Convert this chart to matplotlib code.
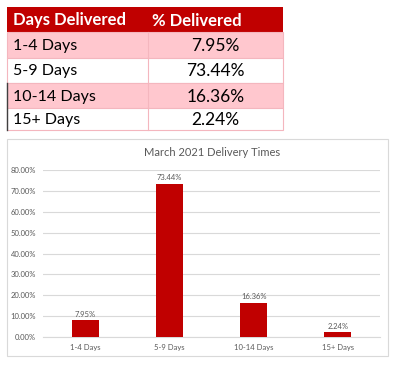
import numpy as np
import matplotlib
matplotlib.use("Agg")
import matplotlib.pyplot as plt
from matplotlib.patches import Rectangle

categories = ["1-4 Days", "5-9 Days", "10-14 Days", "15+ Days"]
delivered = [7.95, 73.44, 16.36, 2.24]
header = ["Days Delivered", "% Delivered"]
yticks = [0, 10, 20, 30, 40, 50, 60, 70, 80]
title = "March 2021 Delivery Times"

RED = "#C00000"
PINK = "#FFC7CE"
GRAY = "#595959"

plt.rcParams["font.family"] = ["Lato", "DejaVu Sans"]

fig = plt.figure(figsize=(4.0, 3.67), dpi=100)

# overlay in pixel coords for table and chart frame
ov = fig.add_axes([0, 0, 1, 1])
ov.set_xlim(0, 400)
ov.set_ylim(367, 0)
ov.axis("off")

# ---- table ----
x0, xs, x1 = 7, 148, 283
row_y = [7, 32, 58, 83, 108, 130]
ov.add_patch(Rectangle((x0, row_y[0]), x1 - x0, row_y[1] - row_y[0],
                       facecolor=RED, edgecolor="none"))
ov.text(13, (row_y[0] + row_y[1]) / 2 + 1, header[0], color="white",
        fontsize=12, fontweight="bold", va="center", ha="left")
ov.text(152, (row_y[0] + row_y[1]) / 2 + 1, header[1], color="white",
        fontsize=12, fontweight="bold", va="center", ha="left")
for i, (cat, val) in enumerate(zip(categories, delivered)):
    ya, yb = row_y[i + 1], row_y[i + 2]
    fc = PINK if i % 2 == 0 else "white"
    ov.add_patch(Rectangle((x0, ya), x1 - x0, yb - ya, facecolor=fc,
                           edgecolor="#F4B6BE", linewidth=0.8))
    ov.plot([xs, xs], [ya, yb], color="#F4B6BE", lw=0.8)
    ov.text(13, (ya + yb) / 2 + 1, cat, color="black", fontsize=11.5,
            va="center", ha="left")
    ov.text((xs + x1) / 2, (ya + yb) / 2 + 1, f"{val:.2f}%", color="black",
            fontsize=12.5, va="center", ha="center")
ov.plot([x0, x0], [row_y[3], row_y[5]], color="#404040", lw=1.0)

# chart frame
ov.add_patch(Rectangle((7, 139), 381, 217, facecolor="none",
                       edgecolor="#D9D9D9", linewidth=0.8))
ov.text(212, 153, title, color=GRAY, fontsize=8, ha="center", va="center")

# ---- bar chart ----
ax = fig.add_axes([0.1075, 0.0817, 0.8425, 0.4551])
ax.set_zorder(2)
ax.patch.set_alpha(0)
x = np.arange(len(categories))
ax.bar(x, delivered, width=0.32, color=RED, zorder=3)
for xi, v in zip(x, delivered):
    ax.text(xi, v + 1.2, f"{v:.2f}%", ha="center", va="bottom",
            fontsize=5.5, color=GRAY)
ax.set_xlim(-0.5, len(categories) - 0.5)
ax.set_ylim(0, 80)
ax.set_yticks(yticks)
ax.set_yticklabels([f"{t:.2f}%" for t in yticks])
ax.set_xticks(x)
ax.set_xticklabels(categories)
ax.grid(axis="y", color="#D9D9D9", linewidth=0.8, zorder=0)
for s in ["top", "right", "left"]:
    ax.spines[s].set_visible(False)
ax.spines["bottom"].set_color("#D9D9D9")
ax.tick_params(length=0, labelsize=5.5, labelcolor=GRAY, pad=5)

fig.savefig("out.png", dpi=100)
